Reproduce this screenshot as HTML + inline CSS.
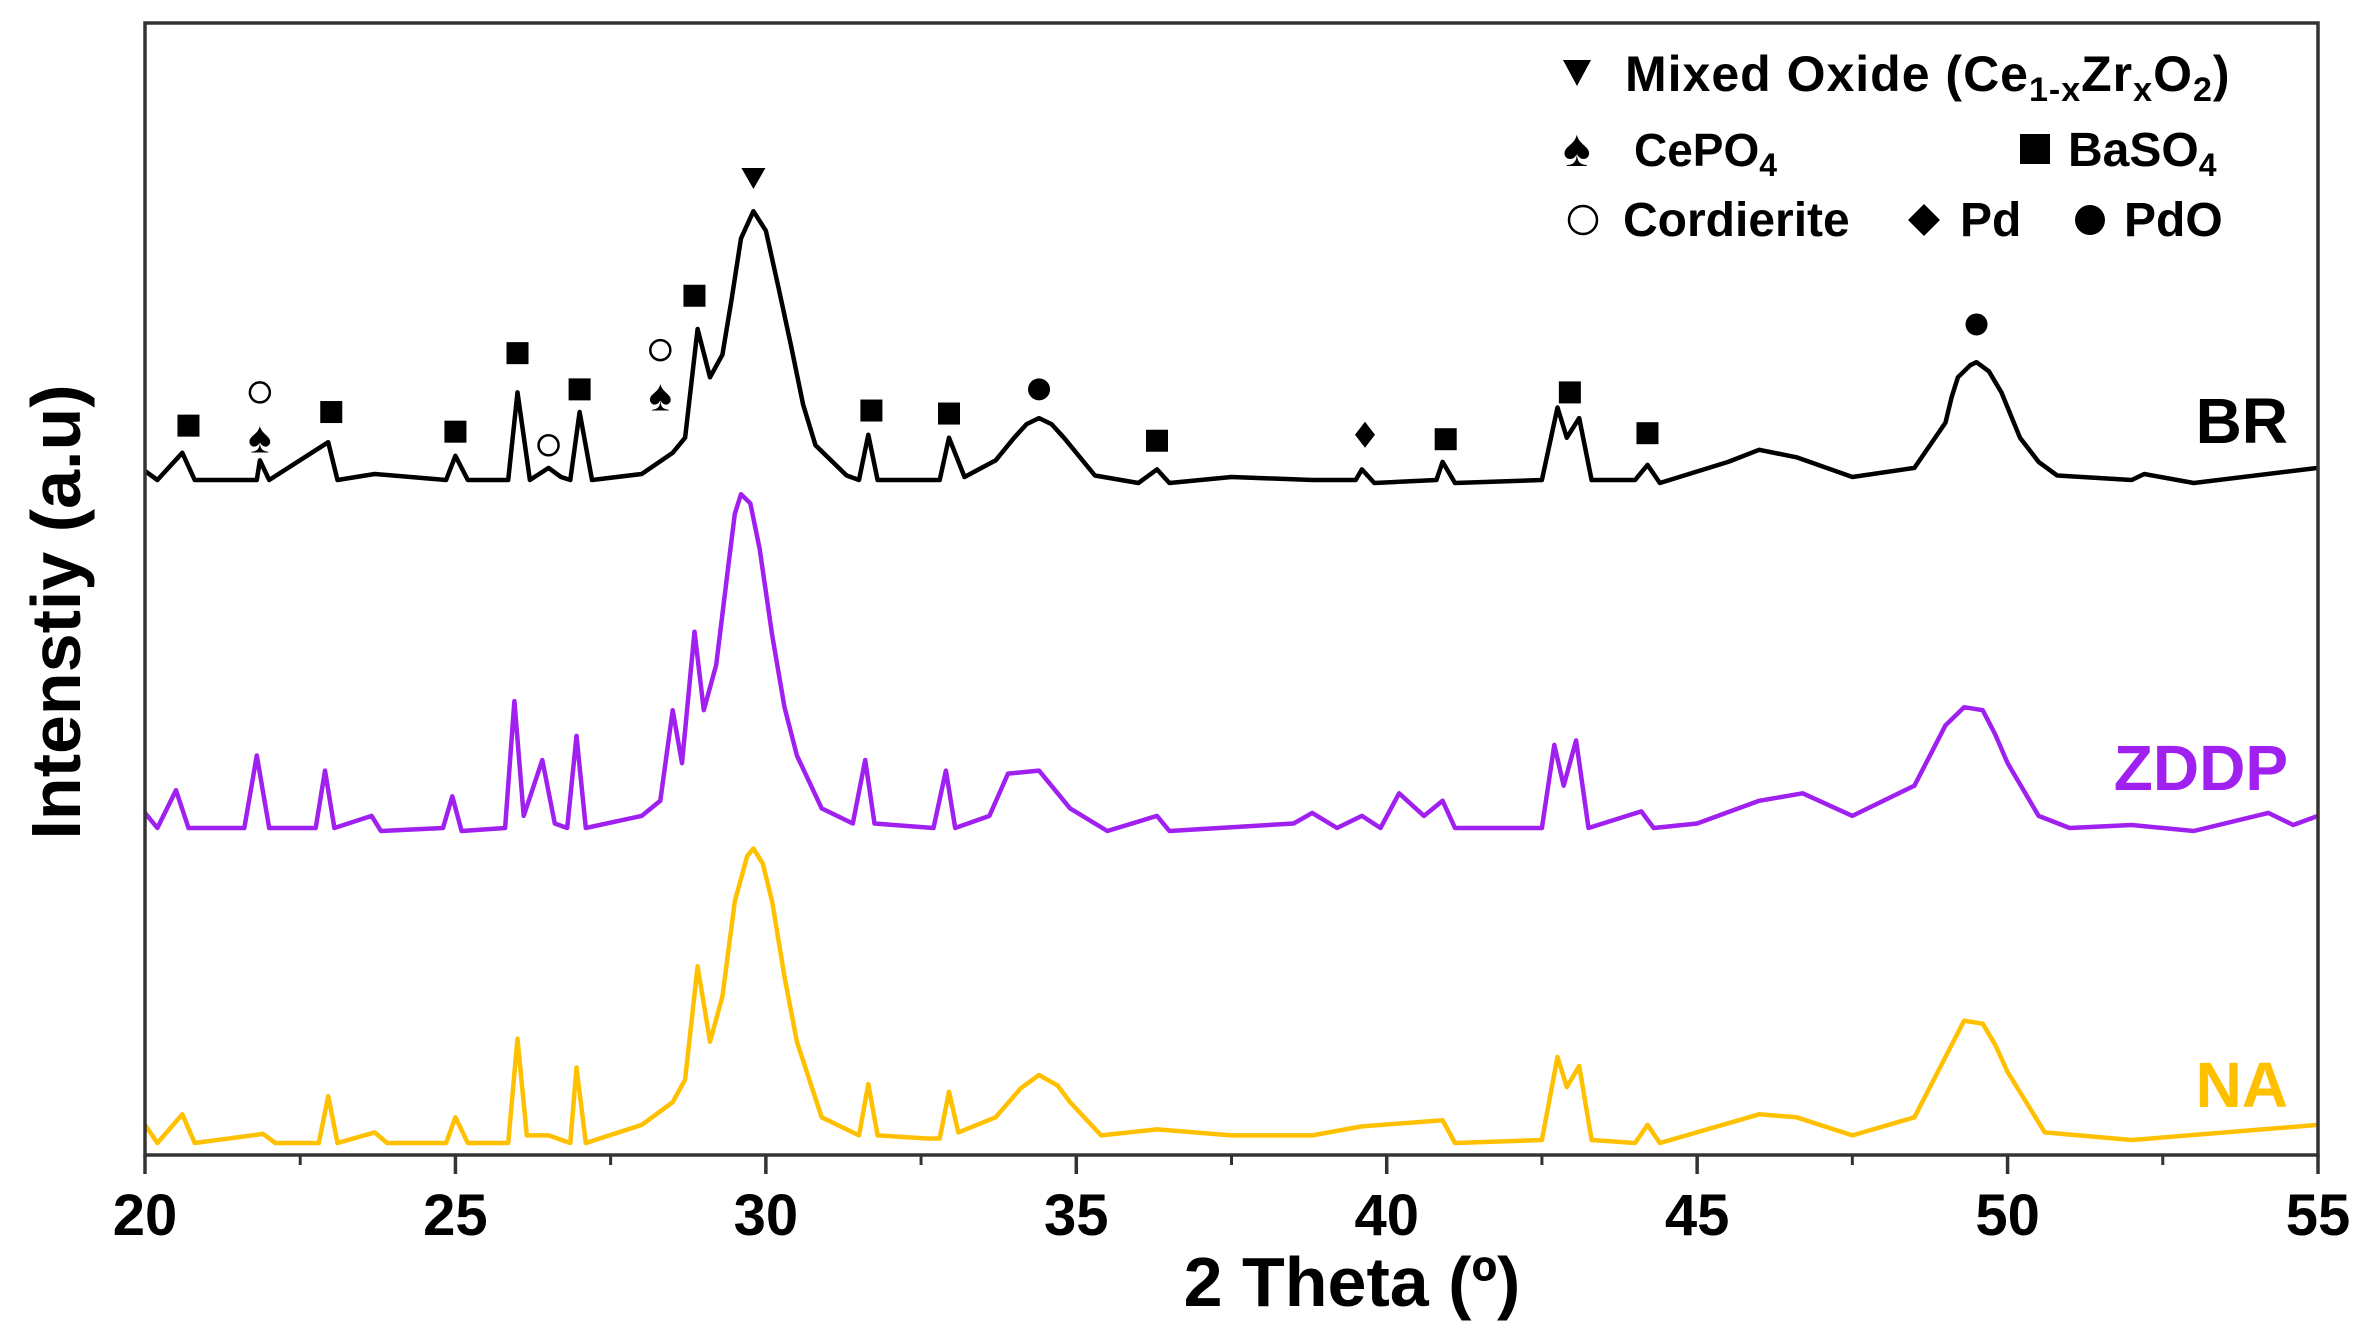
<!DOCTYPE html>
<html><head><meta charset="utf-8"><style>
html,body{margin:0;padding:0;background:#fff}
svg{display:block}
text{font-family:"Liberation Sans",Arial,sans-serif;font-weight:bold}
</style></head><body>
<svg id="chart" width="2368" height="1339" viewBox="0 0 2368 1339" xmlns="http://www.w3.org/2000/svg">
<g id="series-layer"></g>
<g id="marker-layer"></g>
<rect x="145" y="23" width="2173" height="1132" fill="none" stroke="#333" stroke-width="3.5"/>
<g id="axis-layer"></g>
<text x="1352" y="1306" font-size="70" text-anchor="middle">2 Theta (º)</text>
<text transform="translate(80,612) rotate(-90)" font-size="70" text-anchor="middle">Intenstiy (a.u)</text>
<g font-size="46">
  <polygon points="1563,60 1591,60 1577,86" fill="#000"/>
  <text x="1625" y="91" font-size="50" letter-spacing="1">Mixed Oxide (Ce<tspan font-size="34" dy="10">1-x</tspan><tspan dy="-10">Zr</tspan><tspan font-size="34" dy="10">x</tspan><tspan dy="-10">O</tspan><tspan font-size="34" dy="10">2</tspan><tspan dy="-10">)</tspan></text>
  <text x="1563" y="166" font-size="52">♠</text>
  <text x="1634" y="166">CePO<tspan font-size="32" dy="10">4</tspan></text>
  <rect x="2020" y="134" width="30" height="30" fill="#000"/>
  <text x="2068" y="166" font-size="48">BaSO<tspan font-size="32" dy="10">4</tspan></text>
  <circle cx="1583" cy="220" r="14" fill="none" stroke="#000" stroke-width="2.5"/>
  <text x="1623" y="236" font-size="48">Cordierite</text>
  <polygon points="1924,204 1940,220 1924,236 1908,220" fill="#000"/>
  <text x="1960" y="236" font-size="48">Pd</text>
  <circle cx="2090" cy="220" r="15" fill="#000"/>
  <text x="2124" y="236" font-size="48">PdO</text>
</g>
<text x="2288" y="443" font-size="64" text-anchor="end" fill="#000">BR</text>
<text x="2288" y="790" font-size="64" text-anchor="end" fill="#a020f0">ZDDP</text>
<text x="2288" y="1107" font-size="64" text-anchor="end" fill="#ffc000">NA</text>
</svg>
<script>
const brTheta=[20,20.2,20.6,20.8,21.8,21.85,22.0,22.95,23.1,23.7,24.85,25.0,25.2,25.85,26.0,26.2,26.5,26.7,26.85,27.0,27.2,28.0,28.5,28.7,28.9,29.1,29.3,29.45,29.6,29.8,30.0,30.2,30.4,30.6,30.8,31.3,31.5,31.65,31.8,32.6,32.8,32.95,33.2,33.7,34.0,34.2,34.4,34.6,34.8,35.3,36.0,36.3,36.5,37.5,38.8,39.5,39.6,39.8,40.8,40.9,41.1,42.5,42.75,42.9,43.1,43.3,44.0,44.2,44.4,45.5,46.0,46.6,47.5,48.5,49.0,49.1,49.2,49.4,49.5,49.7,49.9,50.2,50.5,50.8,52.0,52.2,53,55];
const brI=[6,0,18,0,0,13,0,25,0,4,0,16,0,0,58,0,8,2,0,45,0,4,18,28,100,68,83,120,160,178,165,128,90,50,23,3,0,30,0,0,0,28,2,13,28,37,41,37,28,3,-2,7,-2,2,0,0,7,-2,0,12,-2,0,48,28,41,0,0,10,-2,12,20,15,2,8,38,55,68,76,78,72,58,28,12,3,0,4,-2,8];
const zdTheta=[20,20.2,20.5,20.7,21.6,21.8,22.0,22.75,22.9,23.05,23.65,23.8,24.8,24.95,25.1,25.8,25.95,26.1,26.4,26.6,26.8,26.95,27.1,28.0,28.3,28.5,28.65,28.85,29.0,29.2,29.4,29.5,29.6,29.75,29.9,30.1,30.3,30.5,30.9,31.4,31.6,31.75,32.7,32.9,33.05,33.6,33.9,34.4,34.9,35.5,36.3,36.5,38.5,38.8,39.2,39.6,39.9,40.2,40.6,40.9,41.1,42.5,42.7,42.85,43.05,43.25,44.1,44.3,45.0,46.0,46.7,47.5,48.5,49.0,49.3,49.6,49.8,50.0,50.5,51.0,52.0,53,54.2,54.6,55];
const zdI=[10,0,25,0,0,48,0,0,38,0,8,-2,0,21,-2,0,84,8,45,3,0,61,0,8,18,78,43,130,78,108,175,208,221,215,185,128,80,48,13,3,45,3,0,38,0,8,36,38,13,-2,8,-2,3,10,0,8,0,23,8,18,0,0,55,28,58,0,11,0,3,18,23,8,28,68,80,78,62,43,8,0,2,-2,10,2,8];
const naTheta=[20,20.2,20.6,20.8,21.9,22.1,22.8,22.95,23.1,23.7,23.9,24.85,25.0,25.2,25.85,26.0,26.15,26.5,26.85,26.95,27.1,28.0,28.5,28.7,28.9,29.1,29.3,29.5,29.7,29.8,29.95,30.1,30.3,30.5,30.9,31.4,31.5,31.65,31.8,32.6,32.8,32.95,33.1,33.7,34.1,34.4,34.7,34.9,35.4,36.3,37.5,38.8,39.6,40.9,41.1,42.5,42.75,42.9,43.1,43.3,44.0,44.2,44.4,46.0,46.6,47.5,48.5,49.0,49.3,49.6,49.8,50.0,50.6,52.0,55];
const naI=[12,0,19,0,6,0,0,31,0,7,0,0,17,0,0,69,5,5,0,50,0,12,27,42,117,67,97,160,190,195,185,160,110,67,17,7,5,39,5,3,3,34,7,17,36,45,38,27,5,9,5,5,11,15,0,2,57,37,51,2,0,12,0,19,17,5,17,57,81,79,65,47,7,2,12];
const xTicks=[20,25,30,35,40,45,50,55];
const squareTheta=[20.7,23.0,25.0,26.0,27.0,28.85,31.7,32.95,36.3,40.95,42.95,44.2];
const squareI=[36,45,32,84,60,122,46,44,26,27,58,31];
const openCircleTheta=[21.85,26.5,28.3];
const openCircleI=[58,23,86];
const spadeTheta=[21.85,28.3];
const spadeI=[28,56];
const filledCircleTheta=[34.4,49.5];
const filledCircleI=[60,103];
const triangleTheta=[29.8];
const triangleI=[200];
const diamondTheta=[39.65];
const diamondI=[30];

const NS='http://www.w3.org/2000/svg';
const X0=145,X1=2318,T0=20,T1=55,K=1.5102;
function xs(t){return X0+(t-T0)*(X1-X0)/(T1-T0);}
function ys(base,i){return base-i*K;}
function mk(tag,attrs,parent){const e=document.createElementNS(NS,tag);for(const k in attrs)e.setAttribute(k,attrs[k]);parent.appendChild(e);return e;}
const sl=document.getElementById('series-layer');
function drawSeries(th,iv,base,color,name){
  let d='';for(let k=0;k<th.length;k++){d+=(k?'L':'M')+xs(th[k]).toFixed(1)+','+ys(base,iv[k]).toFixed(1);}
  const p=mk('path',{d:d,fill:'none',stroke:color,'stroke-width':4.5,'stroke-linejoin':'round'},sl);
  
  
}
drawSeries(brTheta,brI,480,'#000','series-br');
drawSeries(zdTheta,zdI,828,'#a020f0','series-zddp');
drawSeries(naTheta,naI,1143,'#ffc000','series-na');

const ml=document.getElementById('marker-layer');
const BB=480,S=11;
squareTheta.forEach((t,k)=>{const x=xs(t),y=ys(BB,squareI[k]);
  const e=mk('rect',{x:x-S,y:y-S,width:2*S,height:2*S,fill:'#000'},ml);
  
  });
openCircleTheta.forEach((t,k)=>{const x=xs(t),y=ys(BB,openCircleI[k]);
  const e=mk('circle',{cx:x,cy:y,r:10,fill:'none',stroke:'#000','stroke-width':2.5},ml);
  
  });
spadeTheta.forEach((t,k)=>{const x=xs(t),y=ys(BB,spadeI[k]);
  const e=mk('text',{x:x,y:y+15,'font-size':44,'text-anchor':'middle'},ml);e.textContent='♠';
  
  });
filledCircleTheta.forEach((t,k)=>{const x=xs(t),y=ys(BB,filledCircleI[k]);
  const e=mk('circle',{cx:x,cy:y,r:11,fill:'#000'},ml);
  
  });
triangleTheta.forEach((t,k)=>{const x=xs(t),y=ys(BB,triangleI[k]);
  const e=mk('polygon',{points:(x-12)+','+(y-10)+' '+(x+12)+','+(y-10)+' '+x+','+(y+11),fill:'#000'},ml);
  
  });
diamondTheta.forEach((t,k)=>{const x=xs(t),y=ys(BB,diamondI[k]);
  const e=mk('polygon',{points:x+','+(y-13)+' '+(x+10)+','+y+' '+x+','+(y+13)+' '+(x-10)+','+y,fill:'#000'},ml);
  
  });

const al=document.getElementById('axis-layer');
xTicks.forEach(t=>{const x=xs(t);
  const l=mk('line',{x1:x,y1:1155,x2:x,y2:1174,stroke:'#333','stroke-width':3.5},al);
  
  
  const tx=mk('text',{x:x,y:1235,'font-size':58,'text-anchor':'middle'},al);tx.textContent=t;
  
  
  if(t<T1){const m=xs(t+2.5);
    const ml2=mk('line',{x1:m,y1:1155,x2:m,y2:1165,stroke:'#333','stroke-width':3},al);
    
    }
});
</script>
</body></html>
